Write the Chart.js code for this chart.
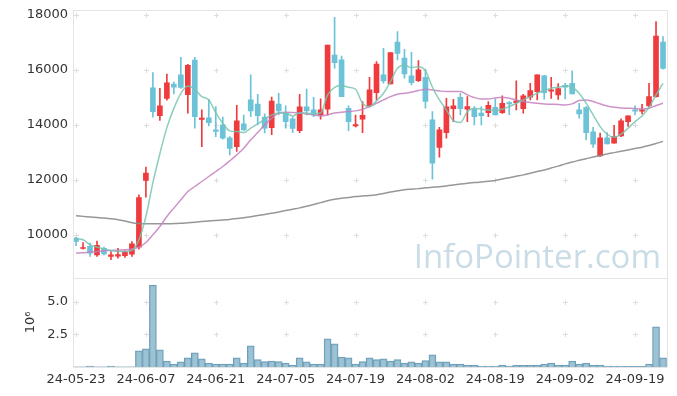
<!DOCTYPE html>
<html><head><meta charset="utf-8">
<script src="https://cdn.jsdelivr.net/npm/chart.js@4/dist/chart.umd.min.js"></script>
<style>html,body{margin:0;padding:0;background:#fff}#wrap{width:677px;height:396px}</style>
</head><body><div id="wrap"><canvas id="c" width="677" height="396"></canvas></div>
<script>
const dates = [
 '24-05-23','24-05-24','24-05-27','24-05-28','24-05-29','24-05-30','24-05-31',
 '24-06-03','24-06-04','24-06-05','24-06-07','24-06-10','24-06-11','24-06-12','24-06-13','24-06-14',
 '24-06-17','24-06-18','24-06-19','24-06-20','24-06-21','24-06-24','24-06-25','24-06-26','24-06-27','24-06-28',
 '24-07-01','24-07-02','24-07-03','24-07-04','24-07-05','24-07-08','24-07-09','24-07-10','24-07-11','24-07-12',
 '24-07-15','24-07-16','24-07-17','24-07-18','24-07-19','24-07-22','24-07-23','24-07-24','24-07-25','24-07-26',
 '24-07-29','24-07-30','24-07-31','24-08-01','24-08-02','24-08-05','24-08-06','24-08-07','24-08-08','24-08-09',
 '24-08-12','24-08-13','24-08-14','24-08-16','24-08-19','24-08-20','24-08-21','24-08-22','24-08-23','24-08-26',
 '24-08-27','24-08-28','24-08-29','24-08-30','24-09-02','24-09-03','24-09-04','24-09-05','24-09-06','24-09-09',
 '24-09-10','24-09-11','24-09-12','24-09-13','24-09-19','24-09-20','24-09-23','24-09-24','24-09-25'
];
const xTickIndex = [0,10,20,30,40,50,60,70,80];
const priceTicks = [10000,12000,14000,16000,18000];
const volumeTicks = [2.5,5.0];

const open = [
 9880,9500,9580,9270,9510,9210,9220,9240,9290,9550,
 11980,15350,14340,14960,15490,15820,15100,16360,14200,14255,
 13820,14000,13530,13210,14036,14910,14760,14280,13900,14760,
 14430,14220,13794,14655,14545,14364,14570,16545,16364,14600,
 13964,14206,14690,15175,15818,15490,17018,16436,15782,15612,
 15734,14182,13176,13720,14594,15007,14570,14570,14430,14449,
 14643,14449,14812,14812,14594,15007,15212,15782,15225,15091,
 15442,15515,14545,14630,13745,12873,13527,13333,13600,14120,
 14545,14497,14690,15030,17018];
const close = [
 9760,9530,9330,9620,9300,9270,9280,9380,9670,11350,
 12250,14480,14690,15530,15370,15360,16170,14300,14250,14085,
 13760,13515,13140,14145,13818,14510,14340,13880,14870,14510,
 14120,13870,14655,14510,14364,14545,16909,16267,15030,14120,
 14012,14352,15273,16218,15600,16630,16606,15855,15540,16000,
 14850,12607,13818,14655,14690,14594,14666,14300,14340,14715,
 14364,14789,14764,14873,15055,15248,15818,15175,15273,15321,
 15370,15127,14400,13720,13297,13527,13309,13575,14145,14327,
 14497,14545,15030,17236,16060];
const high = [
 9910,9720,9700,9770,9550,9390,9510,9420,9750,11450,
 12460,15900,15330,15850,15560,16460,16200,16460,14545,14930,
 14670,14280,13575,14715,14360,15818,15115,14400,15010,15150,
 14690,14280,15115,15300,15007,14945,16909,17915,16509,14690,
 14360,14850,15734,16303,16790,16630,17394,16752,16640,16340,
 16000,14485,13915,14970,14934,15150,15030,14666,14666,14850,
 14934,15055,14850,15600,15115,15515,15818,15800,15734,15500,
 15515,15964,14789,14666,13915,13700,13720,13988,14218,14327,
 14690,14750,15515,17757,17212];
const low = [
 9600,9480,9210,9210,9270,9090,9150,9180,9210,9480,
 11370,14280,14160,14900,15130,15330,14430,13880,13210,13960,
 13575,13480,12910,13030,13800,14300,14000,13710,13640,14360,
 13880,13720,13720,14364,14300,14206,14364,16060,15030,13794,
 13930,13720,14643,14909,15515,15490,16364,15697,15455,15575,
 14606,12025,12825,13515,14120,14364,14120,14000,14000,14300,
 14364,14420,14364,14545,14430,14910,14910,14934,14960,14930,
 14945,15127,14245,13455,13176,12848,13309,13333,13575,13940,
 14364,14400,14666,15007,16025];
const ma5 = [
 9855,9820,9640,9550,9490,9430,9390,9390,9430,9820,
 10667,11900,12950,13900,14600,15150,15418,15297,15030,14909,
 14450,14060,13782,13757,13720,13880,14036,14206,14364,14430,
 14430,14327,14430,14430,14400,14430,15091,15370,15430,15370,
 15297,14789,14666,14873,15152,15575,16060,16182,16085,16120,
 15975,15370,14909,14545,14157,14085,14485,14606,14570,14545,
 14520,14570,14666,14789,14909,15030,15152,15248,15333,15370,
 15418,15370,15152,14789,14364,13939,13660,13550,13660,13880,
 14120,14327,14643,15091,15515];
const ma20 = [
 9333,9345,9370,9390,9418,9430,9440,9455,9480,9550,
 9720,10000,10303,10667,10970,11273,11576,11758,11940,12121,
 12303,12485,12691,12909,13152,13455,13720,14000,14245,14430,
 14460,14450,14430,14400,14364,14327,14364,14430,14460,14485,
 14510,14570,14666,14789,14909,15030,15115,15152,15188,15248,
 15297,15273,15236,15212,15212,15212,15091,14994,14945,14945,
 14982,15007,14970,14909,14850,14812,14789,14764,14752,14740,
 14727,14764,14885,14909,14850,14764,14690,14643,14618,14606,
 14594,14582,14606,14703,14789];
const ma120 = [
 10690,10670,10650,10630,10610,10580,10550,10500,10440,10410,
 10400,10400,10400,10400,10410,10420,10440,10460,10480,10500,
 10520,10540,10560,10590,10620,10660,10700,10740,10780,10830,
 10880,10930,10980,11040,11100,11170,11240,11290,11330,11360,
 11390,11410,11430,11460,11500,11560,11600,11640,11660,11680,
 11710,11730,11750,11780,11810,11850,11880,11900,11920,11950,
 11980,12030,12080,12130,12180,12240,12300,12360,12430,12500,
 12580,12650,12710,12770,12830,12880,12940,12990,13040,13090,
 13140,13190,13250,13320,13400];
const volumeM = [
 0.02,0.02,0.08,0.02,0.02,0.08,0.02,0.02,0.02,1.24,
 1.39,6.29,1.31,0.46,0.23,0.39,0.70,1.08,0.62,0.31,
 0.23,0.23,0.23,0.70,0.31,1.62,0.57,0.41,0.46,0.41,
 0.31,0.15,0.70,0.39,0.23,0.23,2.16,1.78,0.77,0.70,
 0.23,0.41,0.70,0.57,0.62,0.46,0.57,0.31,0.39,0.31,
 0.49,0.93,0.39,0.39,0.23,0.23,0.15,0.15,0.08,0.08,
 0.08,0.15,0.08,0.13,0.13,0.13,0.13,0.23,0.31,0.15,
 0.15,0.46,0.23,0.31,0.15,0.15,0.08,0.08,0.08,0.06,
 0.06,0.06,0.23,3.09,0.70];

const UP = '#ef3b3d', DOWN = '#6cc3d8';
const candleColors = open.map((o,i)=> close[i] >= o ? UP : DOWN);
const pts = arr => arr.map((v,i)=>({x:i, y:v}));
const FONT = 'DejaVu Sans';

const framePlugin = {
  id: 'frame',
  beforeDatasetsDraw(chart) {
    const {ctx, scales} = chart;
    const x = scales.x, y = scales.y, yv = scales.yv;
    ctx.save();
    ctx.font = '33px "Open Sans"';
    ctx.fillStyle = '#cadce6';
    ctx.textAlign = 'right';
    ctx.textBaseline = 'alphabetic';
    ctx.fillText('InfoPointer.com', x.right - 6, y.bottom - 10);
    ctx.strokeStyle = '#e4e4e4';
    ctx.lineWidth = 1;
    const l = Math.round(x.left) - 0.5, r = Math.round(x.right) + 0.5;
    ctx.beginPath();
    ctx.moveTo(l, Math.round(y.top) + 0.5); ctx.lineTo(r, Math.round(y.top) + 0.5);
    ctx.moveTo(l, Math.round(y.bottom) + 0.5); ctx.lineTo(r, Math.round(y.bottom) + 0.5);
    ctx.moveTo(l, Math.round(y.top)); ctx.lineTo(l, Math.round(yv.bottom));
    ctx.moveTo(r, Math.round(y.top)); ctx.lineTo(r, Math.round(yv.bottom));
    ctx.moveTo(l, Math.round(yv.bottom) + 0.5); ctx.lineTo(r, Math.round(yv.bottom) + 0.5);
    ctx.stroke();
    ctx.strokeStyle = '#dddddd';
    const xs = x.ticks.map(t => Math.round(x.getPixelForValue(t.value)) + 0.5);
    const ys = y.ticks.map(t => Math.round(y.getPixelForValue(t.value)) + 0.5)
      .concat(yv.ticks.map(t => Math.round(yv.getPixelForValue(t.value)) + 0.5));
    ctx.beginPath();
    xs.forEach(px => ys.forEach(py => {
      ctx.moveTo(px - 2.5, py); ctx.lineTo(px + 2.5, py);
      ctx.moveTo(px, py - 2.5); ctx.lineTo(px, py + 2.5);
    }));
    ctx.stroke();
    ctx.restore();
  }
};

const noVPad = s => { s.width = 74; s.paddingTop = 0; s.paddingBottom = 0; };

new Chart(document.getElementById('c'), {
  type: 'bar',
  data: {
    datasets: [
      {type:'line', label:'MA5', data: pts(ma5), yAxisID:'y', borderColor:'rgba(120,196,176,0.85)', borderWidth:1.5, pointRadius:0, cubicInterpolationMode:'monotone', order:0},
      {type:'line', label:'MA20', data: pts(ma20), yAxisID:'y', borderColor:'rgba(196,128,192,0.85)', borderWidth:1.5, pointRadius:0, cubicInterpolationMode:'monotone', order:0},
      {type:'line', label:'MA120', data: pts(ma120), yAxisID:'y', borderColor:'rgba(140,140,140,0.9)', borderWidth:1.5, pointRadius:0, cubicInterpolationMode:'monotone', order:0},
      {type:'bar', label:'body', data: open.map((o,i)=>({x:i, y:[o, close[i]]})), yAxisID:'y', backgroundColor:candleColors, barThickness:5, minBarLength:1, grouped:false, order:1},
      {type:'bar', label:'wick', data: open.map((o,i)=>({x:i, y:[low[i], high[i]]})), yAxisID:'y', backgroundColor:candleColors, barThickness:1, grouped:false, order:2},
      {type:'bar', label:'volume', data: pts(volumeM), yAxisID:'yv', backgroundColor:'rgba(139,183,204,0.85)', borderColor:'#6b9db6', borderWidth:1, barThickness:7, grouped:false, order:3}
    ]
  },
  options: {
    responsive:false, animation:false, devicePixelRatio:1,
    layout:{padding:{top:10, right:10, left:0, bottom:0}},
    plugins:{legend:{display:false}, tooltip:{enabled:false}},
    scales:{
      x:{type:'linear', position:'bottom', min:-0.29, max:84.57, offset:false,
         afterBuildTicks: s => { s.ticks = xTickIndex.map(v=>({value:v})); },
         afterFit: s => { s.height = 29; s.paddingLeft = 0; s.paddingRight = 0; },
         grid:{display:false, drawTicks:false, offset:false}, border:{display:false},
         ticks:{callback: v => dates[v], autoSkip:false, maxRotation:0, padding:5, color:'#333', font:{family:FONT, size:13}}},
      yv:{type:'linear', position:'left', stack:'panes', stackWeight:1, min:0, max:6.85,
         afterBuildTicks: s => { s.ticks = volumeTicks.map(v=>({value:v})); },
         afterFit: noVPad,
         grid:{display:false, drawTicks:false}, border:{display:false},
         title:{display:true, text:'10⁶', color:'#333', font:{family:FONT, size:13}, padding:{top:23, bottom:0}},
         ticks:{callback: v => v.toFixed(1), padding:6, color:'#333', font:{family:FONT, size:13}}},
      y:{type:'linear', position:'left', stack:'panes', stackWeight:3, min:8436, max:18182,
         afterBuildTicks: s => { s.ticks = priceTicks.map(v=>({value:v})); },
         afterFit: noVPad,
         grid:{display:false, drawTicks:false}, border:{display:false},
         ticks:{callback: v => String(v), padding:6, color:'#333', font:{family:FONT, size:13}}}
    }
  },
  plugins:[framePlugin]
});
</script></body></html>
